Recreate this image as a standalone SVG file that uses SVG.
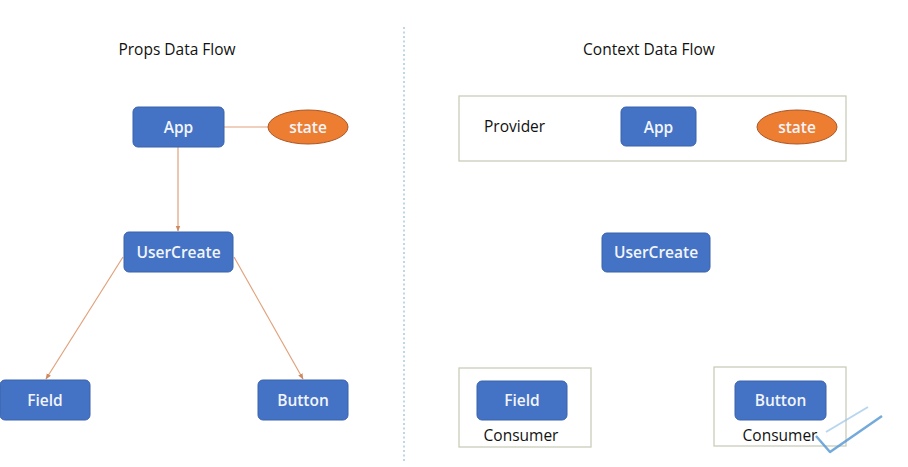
<svg xmlns="http://www.w3.org/2000/svg" width="908" height="467" viewBox="0 0 908 467">
<defs>
<style>
.box{fill:#4472C4;stroke:#3A62AC;stroke-width:1}
.oval{fill:#ED7D31;stroke:#A9582A;stroke-width:1}
.lbl{font-family:"Open Sans","Liberation Sans",sans-serif;font-size:15.5px;font-weight:600;fill:#F2F5FB;text-anchor:middle;dominant-baseline:central}
.dark{font-family:"Open Sans","Liberation Sans",sans-serif;font-size:15.5px;fill:#111111}
.title{font-family:"Open Sans","Liberation Sans",sans-serif;font-size:15.5px;fill:#111111;text-anchor:middle}
.frame{fill:none;stroke:#C9CDB8;stroke-width:1.3}
.conn{stroke:#E2A17B;stroke-width:1.2;fill:none}
</style>
<marker id="arr" viewBox="0 0 10 10" refX="9" refY="5" markerWidth="5" markerHeight="5" orient="auto">
<path d="M0,1 L10,5 L0,9 z" fill="#D08A60"/>
</marker>
</defs>
<rect width="908" height="467" fill="#ffffff"/>
<line x1="404" y1="27" x2="404" y2="463" stroke="#9DC3D8" stroke-width="1.3" stroke-dasharray="2,2.5"/>
<text class="title" x="177" y="55">Props Data Flow</text>
<text class="title" x="649" y="55">Context Data Flow</text>
<g id="connectors">
<line class="conn" x1="224" y1="127" x2="268" y2="127"/>
<line class="conn" x1="178" y1="147" x2="178" y2="231" marker-end="url(#arr)"/>
<line class="conn" x1="123" y1="257" x2="46" y2="379" marker-end="url(#arr)"/>
<line class="conn" x1="234" y1="257" x2="303" y2="379" marker-end="url(#arr)"/>
</g>
<g id="props-app"><rect class="box" x="133" y="107" width="91" height="40" rx="5"/><text class="lbl" x="178.5" y="127">App</text></g>
<g id="props-state"><ellipse class="oval" cx="308" cy="127" rx="40" ry="17"/><text class="lbl" x="308" y="127">state</text></g>
<g id="props-usercreate"><rect class="box" x="124" y="232" width="109" height="40" rx="5"/><text class="lbl" x="178.5" y="252">UserCreate</text></g>
<g id="props-field"><rect class="box" x="0" y="380" width="90" height="40" rx="5"/><text class="lbl" x="45" y="400">Field</text></g>
<g id="props-button"><rect class="box" x="258" y="380" width="90" height="40" rx="5"/><text class="lbl" x="303" y="400">Button</text></g>
<g id="provider"><rect class="frame" x="459" y="96" width="387" height="65"/><text class="dark" x="484" y="132">Provider</text></g>
<g id="ctx-app"><rect class="box" x="621" y="107" width="75" height="39" rx="5"/><text class="lbl" x="658.5" y="127">App</text></g>
<g id="ctx-state"><ellipse class="oval" cx="797" cy="127" rx="40" ry="17"/><text class="lbl" x="797" y="127">state</text></g>
<g id="ctx-usercreate"><rect class="box" x="602" y="233" width="108" height="39" rx="5"/><text class="lbl" x="656" y="252">UserCreate</text></g>
<g id="consumer-field"><rect class="frame" x="459" y="368" width="132" height="79"/><rect class="box" x="477" y="381" width="90" height="39" rx="5"/><text class="lbl" x="522" y="400">Field</text><text class="title" x="521" y="441">Consumer</text></g>
<g id="consumer-button"><rect class="frame" x="714" y="367" width="132" height="79"/><rect class="box" x="735" y="381" width="91" height="39" rx="5"/><text class="lbl" x="780.5" y="400">Button</text><text class="title" x="780" y="441">Consumer</text></g>
<polyline points="816,436 830,452 882,416" fill="none" stroke="#5B9BD5" stroke-width="2.5" stroke-linejoin="round" opacity="0.85"/>
<line x1="826" y1="432" x2="868" y2="407" stroke="#9CC5EA" stroke-width="2" opacity="0.7"/>
</svg>
